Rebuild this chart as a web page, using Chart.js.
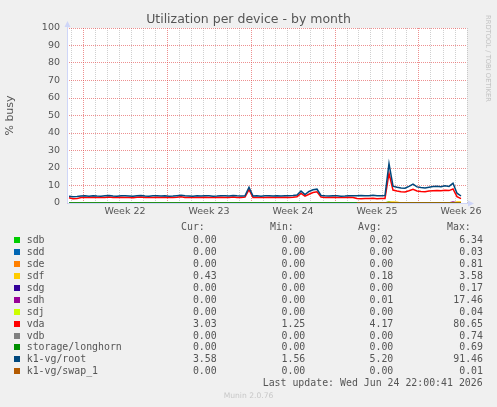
<!DOCTYPE html>
<html>
<head>
<meta charset="utf-8">
<title>Utilization per device - by month</title>
<script src="https://cdn.jsdelivr.net/npm/chart.js@4.4.1/dist/chart.umd.min.js"></script>
<style>
  body { margin: 0; background: #f0f0f0; }
  #wrap { position: relative; width: 497px; height: 407px; overflow: hidden; }
  #chart { position: absolute; left: 0; top: 0; }
  .txt { position: absolute; white-space: pre; color: #555; }
  .mono { font-family: 'DejaVu Sans Mono', monospace; font-size: 9.9px; line-height: 12px; }
  .num { width: 70px; text-align: right; }
  .swatch { position: absolute; width: 6px; height: 6px; }
  #title { left: 0; top: 11px; width: 497px; text-align: center; font: 12.5px/15px 'DejaVu Sans', sans-serif; }
  #rrd { left: 492px; top: 15px; transform-origin: 0 0; transform: rotate(90deg);
         font: 6.75px/8px 'DejaVu Sans', sans-serif; color: #c4c4c4; }
  #munin { left: 0; top: 391px; width: 497px; text-align: center; font: 7.6px/10px 'DejaVu Sans', sans-serif; color: #c8c8c8; }
</style>
</head>
<body>
<div id="wrap">
  <canvas id="chart" width="497" height="407"></canvas>
  <div id="title" class="txt">Utilization per device - by month</div>
  <div id="rrd" class="txt">RRDTOOL / TOBI OETIKER</div>
  <div id="legend"></div>
  <div id="munin" class="txt">Munin 2.0.76</div>
</div>
<script>
// x positions are days counted from monday of week 22, one sample every 8 hours
const xMin = -4 / 3;
const xMax = 32;
const firstSample = -7 / 6;
const sampleStep = 1 / 3;

const weekStarts = [0, 7, 14, 21, 28];
const weekLabels = ['Week 22', 'Week 23', 'Week 24', 'Week 25', 'Week 26'];

const seriesNames = ['sdb', 'sdd', 'sde', 'sdf', 'sdg', 'sdh', 'sdj', 'vda', 'vdb',
  'storage/longhorn', 'k1-vg/root', 'k1-vg/swap_1'];
const seriesColors = ['#00CC00', '#0066B3', '#FF8000', '#FFCC00', '#330099', '#990099',
  '#CCFF00', '#FF0000', '#808080', '#008F00', '#00487D', '#B35A00'];

const curValues = [0.00, 0.00, 0.00, 0.43, 0.00, 0.00, 0.00, 3.03, 0.00, 0.00, 3.58, 0.00];
const minValues = [0.00, 0.00, 0.00, 0.00, 0.00, 0.00, 0.00, 1.25, 0.00, 0.00, 1.56, 0.00];
const avgValues = [0.02, 0.00, 0.00, 0.18, 0.00, 0.01, 0.00, 4.17, 0.00, 0.00, 5.20, 0.00];
const maxValues = [6.34, 0.03, 0.81, 3.58, 0.17, 17.46, 0.04, 80.65, 0.74, 0.69, 91.46, 0.01];
const lastUpdate = 'Last update: Wed Jun 24 22:00:41 2026';

// series values, 99 samples each (rows of 11)
const rootValues = [
  3.8, 3.6, 3.7, 4.0, 4.1, 3.9, 4.2, 4.0, 3.9, 4.1, 4.3,
  4.0, 3.9, 4.2, 4.1, 4.0, 3.8, 4.2, 4.3, 4.0, 3.9, 4.1,
  4.2, 4.0, 4.1, 3.9, 4.0, 4.2, 4.4, 4.1, 4.0, 3.9, 4.1,
  4.0, 4.2, 4.1, 3.9, 4.0, 4.2, 4.1, 4.0, 4.3, 4.1, 4.0,
  4.1, 9.0, 4.0, 4.1, 3.9, 4.1, 4.2, 4.0, 4.1, 4.0, 4.2,
  4.1, 4.3, 4.6, 6.8, 4.8, 6.6, 7.6, 7.9, 4.3, 4.1, 4.0,
  4.2, 4.1, 3.9, 4.0, 4.2, 4.1, 4.2, 4.3, 4.1, 4.2, 4.4,
  4.2, 4.1, 4.3, 22.5, 9.6, 9.0, 8.6, 8.4, 9.5, 10.8, 9.2,
  8.8, 8.6, 9.0, 9.4, 9.6, 9.3, 9.8, 9.5, 11.3, 5.6, 4.0
];
const vdaValues = [
  3.0, 2.4, 2.5, 3.1, 3.2, 3.1, 3.3, 3.2, 3.1, 3.2, 3.4,
  3.2, 3.1, 3.3, 3.2, 3.2, 3.0, 3.3, 3.4, 3.2, 3.1, 3.2,
  3.3, 3.2, 3.3, 3.1, 3.2, 3.3, 3.5, 3.2, 3.2, 3.1, 3.2,
  3.2, 3.3, 3.2, 3.1, 3.2, 3.3, 3.2, 3.2, 3.4, 3.2, 3.2,
  3.4, 7.6, 3.2, 3.2, 3.1, 3.2, 3.3, 3.2, 3.2, 3.1, 3.3,
  3.2, 3.3, 3.6, 5.5, 3.9, 5.0, 6.0, 6.4, 3.4, 3.2, 3.1,
  3.3, 3.2, 3.1, 3.2, 3.3, 3.2, 2.6, 2.5, 2.6, 2.6, 2.7,
  2.5, 2.6, 2.6, 17.0, 7.4, 6.8, 6.4, 6.3, 7.0, 7.8, 6.9,
  6.6, 6.5, 6.8, 7.0, 7.2, 7.0, 7.3, 7.1, 8.0, 3.6, 2.5
];
const sdbValues = [
  0, 0, 0, 0, 0, 0, 0, 0, 0, 0, 0,
  0, 0, 0, 0, 0, 0, 0, 0, 0, 0, 0,
  0, 0, 0, 0, 0, 0, 0, 0, 0, 0, 0,
  0, 0, 0, 0, 0, 0, 0, 0, 0, 0, 0,
  0, 0, 0, 0, 0, 0, 0, 0, 0, 0, 0,
  0, 0, 0, 0, 0, 0, 0, 0, 0, 0, 0,
  0, 0, 0, 0, 0, 0, 0, 0, 0, 0, 0,
  0, 0, 0, 0.6, 0, 0, 0, 0, 0, 0, 0,
  0, 0, 0, 0, 0, 0, 0, 0, 0, 0, 0
];
const sdfValues = [
  0, 0, 0, 0, 0, 0, 0, 0, 0, 0, 0,
  0, 0, 0, 0, 0, 0, 0, 0, 0, 0, 0,
  0, 0, 0, 0, 0, 0, 0, 0, 0, 0, 0,
  0, 0, 0, 0, 0, 0, 0, 0, 0, 0, 0,
  0, 0, 0, 0, 0, 0, 0, 0, 0, 0, 0,
  0, 0, 0, 0, 0, 0, 0, 0, 0, 0, 0,
  0, 0, 0, 0, 0, 0, 0, 0, 0, 0, 0,
  0, 0, 0, 0.5, 0.6, 0.5, 0, 0, 0, 0, 0,
  0, 0, 0, 0, 0, 0, 0, 0, 0, 0.6, 0.6
];
const sdhValues = [
  0, 0, 0, 0, 0, 0, 0, 0, 0, 0, 0,
  0, 0, 0, 0, 0, 0, 0, 0, 0, 0, 0,
  0, 0, 0, 0, 0, 0, 0, 0, 0, 0, 0,
  0, 0, 0, 0, 0, 0, 0, 0, 0, 0, 0,
  0, 0, 0, 0, 0, 0, 0, 0, 0, 0, 0,
  0, 0, 0, 0, 0, 0, 0, 0, 0, 0, 0,
  0, 0, 0, 0, 0, 0, 0, 0, 0, 0, 0,
  0, 0, 0, 0, 0, 0, 0, 0, 0, 0, 0,
  0, 0, 0, 0, 0, 0, 0, 0, 0.6, 0, 0
];
// idle devices sit on zero the whole month
const idleValues = [
  0, 0, 0, 0, 0, 0, 0, 0, 0, 0, 0,
  0, 0, 0, 0, 0, 0, 0, 0, 0, 0, 0,
  0, 0, 0, 0, 0, 0, 0, 0, 0, 0, 0,
  0, 0, 0, 0, 0, 0, 0, 0, 0, 0, 0,
  0, 0, 0, 0, 0, 0, 0, 0, 0, 0, 0,
  0, 0, 0, 0, 0, 0, 0, 0, 0, 0, 0,
  0, 0, 0, 0, 0, 0, 0, 0, 0, 0, 0,
  0, 0, 0, 0, 0, 0, 0, 0, 0, 0, 0,
  0, 0, 0, 0, 0, 0, 0, 0, 0, 0, 0
];
// swap only has data for the last part of the month
const swapValues = [
  null, null, null, null, null, null, null, null, null, null, null,
  null, null, null, null, null, null, null, null, null, null, null,
  null, null, null, null, null, null, null, null, null, null, null,
  null, null, null, null, null, null, null, null, null, null, null,
  null, null, null, null, null, null, null, null, null, null, null,
  null, null, null, null, null, null, null, null, null, null, null,
  null, null, null, null, null, null, 0, 0, 0, 0, 0,
  0, 0, 0, 0, 0, 0, 0, 0, 0, 0, 0,
  0, 0, 0, 0, 0, 0, 0, 0, 0, 0, 0
];

const seriesValues = [sdbValues, idleValues, idleValues, sdfValues, idleValues, sdhValues,
  idleValues, vdaValues, idleValues, idleValues, rootValues, swapValues];

const sampleTimes = rootValues.map((_, i) => firstSample + i * sampleStep);

// rrdtool default grid colours
const majorGrid = 'rgba(225, 70, 70, 0.6)';
const minorGrid = 'rgba(143, 143, 143, 0.42)';
const axisColor = '#CFD6F8';

function isWeekStart(v) {
  return weekStarts.some(w => Math.abs(w - v) < 1e-6);
}

// white canvas behind the plot + munin style axes with arrows
const muninFrame = {
  id: 'muninFrame',
  beforeDraw(chart) {
    const { ctx, chartArea: a } = chart;
    ctx.save();
    ctx.fillStyle = '#fff';
    ctx.fillRect(a.left, a.top, a.right - a.left, a.bottom - a.top);
    ctx.restore();
  },
  beforeDatasetsDraw(chart) {
    const { ctx, chartArea: a } = chart;
    const x0 = Math.round(a.left) + 0.5;
    const y0 = Math.round(a.bottom) + 0.5;
    ctx.save();
    ctx.strokeStyle = axisColor;
    ctx.fillStyle = axisColor;
    ctx.lineWidth = 1;
    ctx.beginPath();
    ctx.moveTo(x0, y0);
    ctx.lineTo(x0, a.top - 3);
    ctx.moveTo(x0, y0);
    ctx.lineTo(a.right + 3, y0);
    ctx.stroke();
    ctx.beginPath();
    ctx.moveTo(x0, a.top - 7);
    ctx.lineTo(x0 - 3, a.top - 1);
    ctx.lineTo(x0 + 3, a.top - 1);
    ctx.closePath();
    ctx.moveTo(a.right + 7, y0);
    ctx.lineTo(a.right + 1, y0 - 3);
    ctx.lineTo(a.right + 1, y0 + 3);
    ctx.closePath();
    ctx.fill();
    ctx.restore();
  }
};

Chart.defaults.font.family = "'DejaVu Sans', sans-serif";

const datasets = seriesNames.map((name, k) => ({
  label: name,
  data: sampleTimes.map((t, i) => ({ x: t, y: seriesValues[k][i] })),
  borderColor: seriesColors[k],
  backgroundColor: seriesColors[k],
  borderWidth: 1.5,
  pointRadius: 0,
  tension: 0,
  fill: false,
  order: -k
}));

new Chart(document.getElementById('chart'), {
  type: 'line',
  data: { datasets: datasets },
  options: {
    responsive: false,
    animation: false,
    devicePixelRatio: 1,
    layout: { padding: { top: 28, left: 0, right: 30, bottom: 184 } },
    plugins: {
      legend: { display: false },
      title: { display: false },
      tooltip: { enabled: false }
    },
    scales: {
      x: {
        type: 'linear',
        min: xMin,
        max: xMax,
        afterBuildTicks: scale => {
          const ticks = [];
          for (let d = Math.ceil(xMin); d <= xMax; d++) ticks.push({ value: d });
          weekStarts.forEach(w => ticks.push({ value: w + 3.5 }));
          ticks.sort((a, b) => a.value - b.value);
          scale.ticks = ticks;
        },
        afterFit: scale => { scale.height = 20; },
        ticks: {
          autoSkip: false,
          maxRotation: 0,
          padding: 2.5,
          color: '#555',
          font: { size: 9.5 },
          callback: value => {
            const k = weekStarts.indexOf(value - 3.5);
            return k >= 0 ? weekLabels[k] : '';
          }
        },
        grid: {
          drawTicks: false,
          lineWidth: 1,
          color: ctx => {
            const v = ctx.tick.value;
            if (!Number.isInteger(v)) return 'rgba(0,0,0,0)';
            return isWeekStart(v) ? majorGrid : minorGrid;
          }
        },
        border: { display: false, dash: [1, 1] }
      },
      y: {
        min: 0,
        max: 100,
        afterFit: scale => { scale.width = 67; },
        title: {
          display: true,
          text: '% busy',
          color: '#555',
          font: { size: 11 },
          padding: { top: 4, bottom: 0 }
        },
        ticks: {
          stepSize: 5,
          padding: 7,
          color: '#555',
          font: { size: 9.5 },
          callback: v => (v % 10 === 0 ? v : '')
        },
        grid: {
          drawTicks: false,
          lineWidth: 1,
          color: ctx => (ctx.tick.value % 10 === 0 ? majorGrid : minorGrid)
        },
        border: { display: false, dash: [1, 1] }
      }
    }
  },
  plugins: [muninFrame]
});

// legend table under the graph
const legend = document.getElementById('legend');
function addText(text, cls, left, centerY) {
  const el = document.createElement('div');
  el.className = 'txt mono ' + cls;
  el.textContent = text;
  el.style.left = left + 'px';
  el.style.top = (centerY - 6) + 'px';
  legend.appendChild(el);
  return el;
}
const colRight = [216.7, 305.3, 393.3, 483];
const headers = ['Cur:', 'Min:', 'Avg:', 'Max:'];
const headerLeft = [181, 270, 358, 447];
headers.forEach((h, c) => addText(h, '', headerLeft[c], 227.3));

const rowY0 = 240;
const rowStep = 11.94;
seriesNames.forEach((name, k) => {
  const y = rowY0 + k * rowStep;
  const sw = document.createElement('div');
  sw.className = 'swatch';
  sw.style.left = '14px';
  sw.style.top = (y - 3) + 'px';
  sw.style.background = seriesColors[k];
  legend.appendChild(sw);
  addText(name, '', 26.7, y);
  [curValues, minValues, avgValues, maxValues].forEach((vals, c) => {
    addText(vals[k].toFixed(2), 'num', colRight[c] - 70, y);
  });
});
addText(lastUpdate, 'num', 482.7 - 300, 383.3).style.width = '300px';
</script>
</body>
</html>
